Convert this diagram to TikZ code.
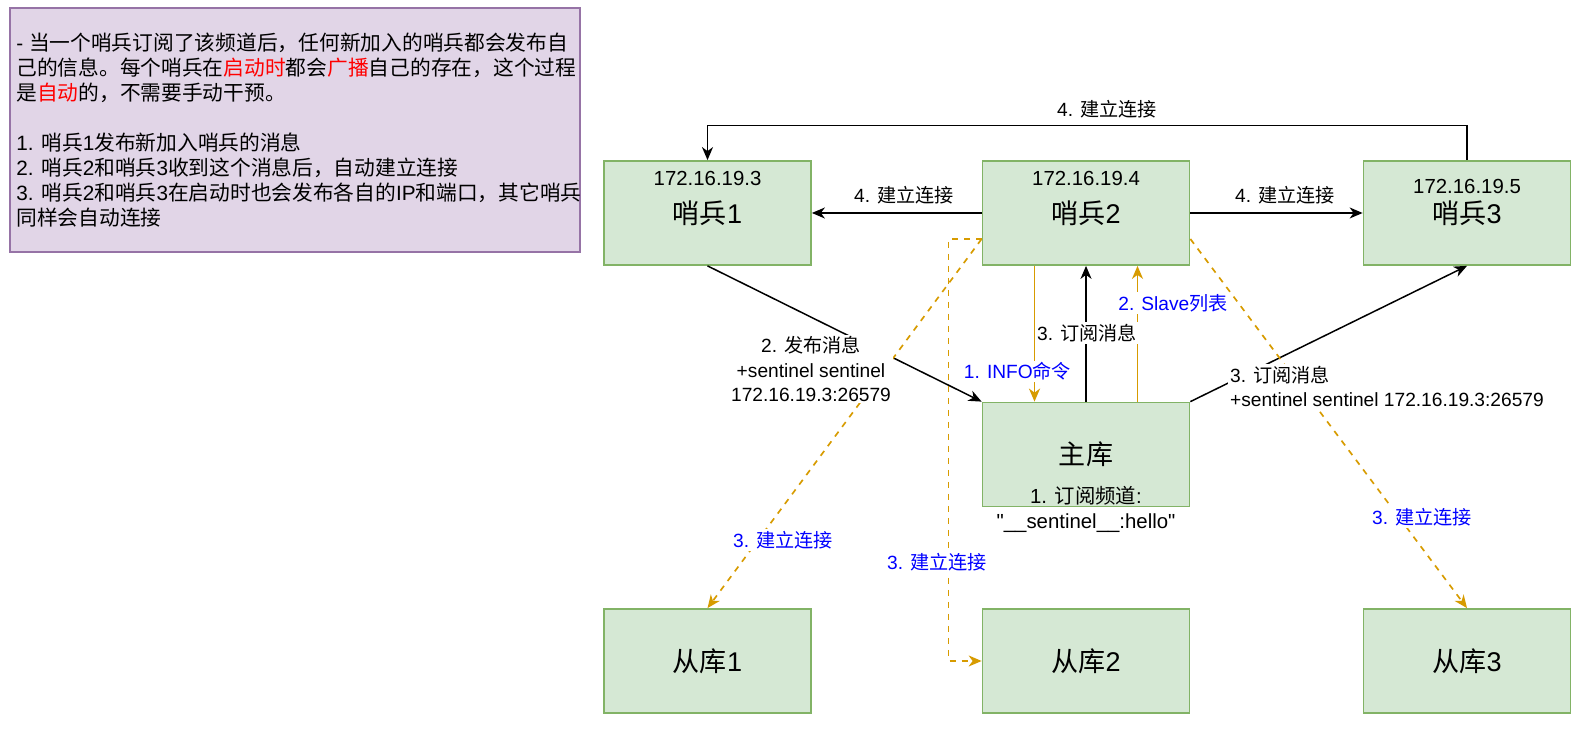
\documentclass[tikz,border=0pt]{standalone}
\usepackage{fontspec}
\usetikzlibrary{arrows.meta}
\setmainfont{Liberation Sans}[Ligatures=TeXOff]
\newfontfamily\cjkfont{Noto Sans CJK SC}
\newcommand{\latinfont}{\rmfamily}
% Chinese characters switch to the CJK family by themselves
\XeTeXinterchartokenstate=1
\chardef\cjkclass=10
\newcount\cjkpos
\newcommand{\setcjkrange}[2]{%
  \cjkpos=#1\relax
  \loop
    \XeTeXcharclass\cjkpos=\cjkclass
    \advance\cjkpos by 1
  \ifnum\cjkpos<#2\relax\repeat}
\setcjkrange{"3000}{"3040}
\setcjkrange{"4E00}{"A000}
\setcjkrange{"FF00}{"FFF0}
\XeTeXinterchartoks 0 \cjkclass = {\cjkfont}
\XeTeXinterchartoks 4095 \cjkclass = {\cjkfont}
\XeTeXinterchartoks \cjkclass 0 = {\latinfont}
\XeTeXinterchartoks 4095 0 = {\latinfont}
\newcommand{\namesize}{\fontsize{15.4}{18.5}\selectfont}
\newcommand{\ipsize}{\fontsize{11.6}{14.2}\selectfont}
\newcommand{\labsize}{\fontsize{10.9}{13.7}\selectfont}
\newcommand{\memosize}{\fontsize{11.8}{14.23}\selectfont}
\definecolor{nodegreen}{HTML}{D5E8D4}
\definecolor{edgegreen}{HTML}{82B366}
\definecolor{memoviolet}{HTML}{E1D5E7}
\definecolor{memoedge}{HTML}{9673A6}
\definecolor{linkorange}{HTML}{D79B00}
\definecolor{stepblue}{HTML}{0000FF}
\definecolor{keyred}{HTML}{FF0000}
\tikzset{
  server/.style={draw=edgegreen, line width=1pt, fill=nodegreen,
                 minimum width=41.4mm, minimum height=20.8mm,
                 inner sep=0pt, font=\namesize},
  memo/.style={draw=memoedge, line width=1pt, fill=memoviolet,
               minimum width=114.1mm, minimum height=48.8mm, inner sep=0pt},
  memotext/.style={align=left, inner sep=0pt, font=\memosize},
  ip/.style={inner sep=0pt, align=center, font=\ipsize},
  lab/.style={fill=white, inner sep=1pt, align=center, font=\labsize},
  steplab/.style={lab, text=stepblue},
  flow/.style={-{Stealth[length=2.6mm,width=2.2mm,inset=0.8mm]},
               line width=0.85pt},
  infoflow/.style={flow, draw=linkorange, line width=1pt},
  linkflow/.style={flow, draw=linkorange, line width=0.95pt,
                   dash pattern=on 1.2mm off 1.2mm},
}

\begin{document}
\begin{tikzpicture}[x=1cm,y=1cm]
  \path[use as bounding box] (0,0) rectangle (31.88,14.70);

  % Note on the left.
  \node[memo] (memo) at (5.90,12.10) {};
  \node[memotext, anchor=west] (memotxt) at (0.32,12.10)
    {- 当一个哨兵订阅了该频道后，任何新加入的哨兵都会发布自\\
     己的信息。每个哨兵在\textcolor{keyred}{启动时}都会\textcolor{keyred}{广播}自己的存在，这个过程\\
     是\textcolor{keyred}{自动}的，不需要手动干预。\\[14.23pt]
     1. 哨兵1发布新加入哨兵的消息\\
     2. 哨兵2和哨兵3收到这个消息后，自动建立连接\\
     3. 哨兵2和哨兵3在启动时也会发布各自的IP和端口，其它哨兵\\
     同样会自动连接};

  % Sentinels, master and slaves.
  \node[server] (s1) at (14.15,10.44) {哨兵1};
  \node[server] (s2) at (21.72,10.44) {哨兵2};
  \node[server] (s3) at (29.34,10.44) {哨兵3};
  \node[ip] (ip1) at (14.15,11.14) {172.16.19.3};
  \node[ip] (ip2) at (21.72,11.14) {172.16.19.4};
  \node[ip] (ip3) at (29.34,10.97) {172.16.19.5};
  \node[server] (m) at (21.72,5.61) {主库};
  \node[server] (sl1) at (14.15,1.48) {从库1};
  \node[server] (sl2) at (21.72,1.48) {从库2};
  \node[server] (sl3) at (29.34,1.48) {从库3};

  % Sentinels connect to each other.
  \draw[flow] (s3.north) -- ++(0,0.69) -| (s1.north);
  \draw[flow] (s2.west) -- (s1.east);
  \draw[flow] (s2.east) -- (s3.west);
  \node[lab, fill=none] (l31) at (22.14,12.52) {4. 建立连接};
  \node[lab, fill=none] (l21) at (18.08,10.80) {4. 建立连接};
  \node[lab, fill=none] (l23) at (25.70,10.80) {4. 建立连接};

  % Traffic through the master.
  \draw[flow] (s1.south) -- (m.north west);
  \draw[infoflow] ([xshift=-1.03cm]s2.south) -- ([xshift=-1.03cm]m.north);
  \draw[flow] (m.north) -- (s2.south);
  \draw[infoflow] ([xshift=1.03cm]m.north) -- ([xshift=1.03cm]s2.south);
  \draw[flow] (m.north east) -- (s3.south);

  % Sentinel 2 links to the slaves.
  \draw[linkflow] ([yshift=-0.52cm]s2.west) -- (sl1.north);
  \draw[linkflow] ([yshift=-0.52cm]s2.west) -- ++(-0.66,0) |- (sl2.west);
  \draw[linkflow] ([yshift=-0.52cm]s2.east) -- (sl3.north);

  \node[lab] (lpub) at (16.22,7.32)
    {2. 发布消息\\+sentinel sentinel\\172.16.19.3:26579};
  \node[lab, align=left, anchor=west] (lsub3) at (24.56,6.98)
    {3. 订阅消息\\+sentinel sentinel 172.16.19.3:26579};
  \node[steplab] (linfo) at (20.35,7.27) {1. INFO命令};
  \node[lab] (lsub2) at (21.74,8.04) {3. 订阅消息};
  \node[steplab] (lslave) at (23.46,8.64) {2. Slave列表};
  \node[steplab] (ll1) at (15.66,3.90) {3. 建立连接};
  \node[steplab] (ll2) at (18.74,3.46) {3. 建立连接};
  \node[steplab] (ll3) at (28.44,4.36) {3. 建立连接};
  \node[ip] (mchan) at (21.72,4.51) {1. 订阅频道:\\"\_\_sentinel\_\_:hello"};
\end{tikzpicture}
\end{document}
